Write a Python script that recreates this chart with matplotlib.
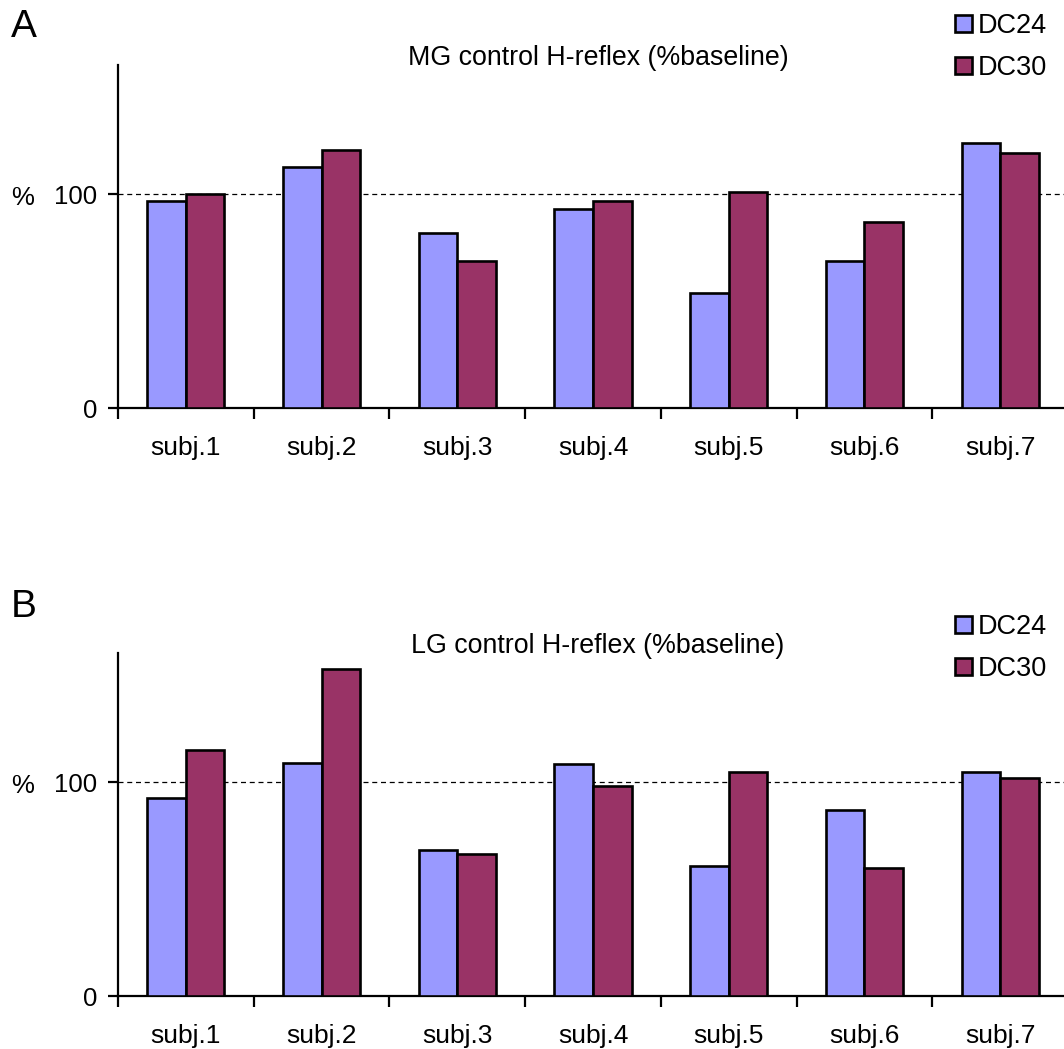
import matplotlib.pyplot as plt
import numpy as np
from matplotlib.ticker import FixedLocator

plt.rcParams["font.family"] = ["Liberation Sans", "DejaVu Sans"]

subjects = ["subj.1", "subj.2", "subj.3", "subj.4", "subj.5", "subj.6", "subj.7"]
series_names = ["DC24", "DC30"]

mg_dc24 = [97, 113, 82, 93, 54, 69, 124]
mg_dc30 = [100, 120.5, 69, 97, 101, 87, 119.5]
lg_dc24 = [92.5, 109, 68.5, 108.6, 60.8, 87, 105]
lg_dc30 = [115, 153, 66.6, 98.3, 105, 60, 102]

COLOR_DC24 = "#9999ff"
COLOR_DC30 = "#993366"

W, H = 1064, 1049
fig = plt.figure(figsize=(W / 100, H / 100), dpi=100)


def draw_panel(bottom_px, top_px, dc24, dc30, title, letter, letter_y, legend_y):
    ax = fig.add_axes([118 / W, (H - bottom_px) / H, 950 / W, (bottom_px - top_px) / H])
    x = np.arange(len(subjects))
    w = 0.284
    b1 = ax.bar(x - w / 2, dc24, w, color=COLOR_DC24, edgecolor="black", linewidth=1.9, zorder=3)
    b2 = ax.bar(x + w / 2, dc30, w, color=COLOR_DC30, edgecolor="black", linewidth=1.9, zorder=3)
    ax.axhline(100, color="black", linewidth=0.9, linestyle=(0, (4, 3)), zorder=1)

    ax.set_xlim(-0.5, len(subjects) - 0.5)
    ax.set_ylim(0, 160.5)
    ax.spines["top"].set_visible(False)
    ax.spines["right"].set_visible(False)
    ax.spines["left"].set_linewidth(1.6)
    ax.spines["bottom"].set_linewidth(1.6)

    # labels at category centres, tick marks on the boundaries
    ax.set_xticks(x)
    ax.set_xticklabels(subjects, fontsize=19)
    ax.tick_params(axis="x", which="major", length=0, pad=20)
    ax.xaxis.set_minor_locator(FixedLocator(np.arange(-0.5, len(subjects), 1.0)))
    ax.tick_params(axis="x", which="minor", length=8, width=1.6, direction="out")

    ax.set_yticks([0, 100])
    ax.set_yticklabels(["0", "100"], fontsize=18.5)
    ax.tick_params(axis="y", length=7, width=1.6, pad=8)

    fig.text(598 / W, 1 - (top_px - 7) / H, title, ha="center", va="center", fontsize=19.3)
    fig.text(11 / W, 1 - letter_y / H, letter, ha="left", va="center", fontsize=28)
    y100 = ax.transData.transform((0, 100))[1]
    fig.text(11 / W, (y100 - 4) / H, "%", ha="left", va="center", fontsize=18.5)

    ax.legend([b1, b2], series_names, loc="upper left",
              bbox_to_anchor=(955 / W, 1 - legend_y / H), bbox_transform=fig.transFigure,
              frameon=False, fontsize=19.5, handlelength=0.62, handleheight=0.62,
              handletextpad=0.22, labelspacing=0.6, borderpad=0, borderaxespad=0)
    return ax


draw_panel(408, 65, mg_dc24, mg_dc30, "MG control H-reflex (%baseline)", "A", 27, 13)
draw_panel(996, 653, lg_dc24, lg_dc30, "LG control H-reflex (%baseline)", "B", 607, 614)

fig.savefig("out.png", dpi=100)
